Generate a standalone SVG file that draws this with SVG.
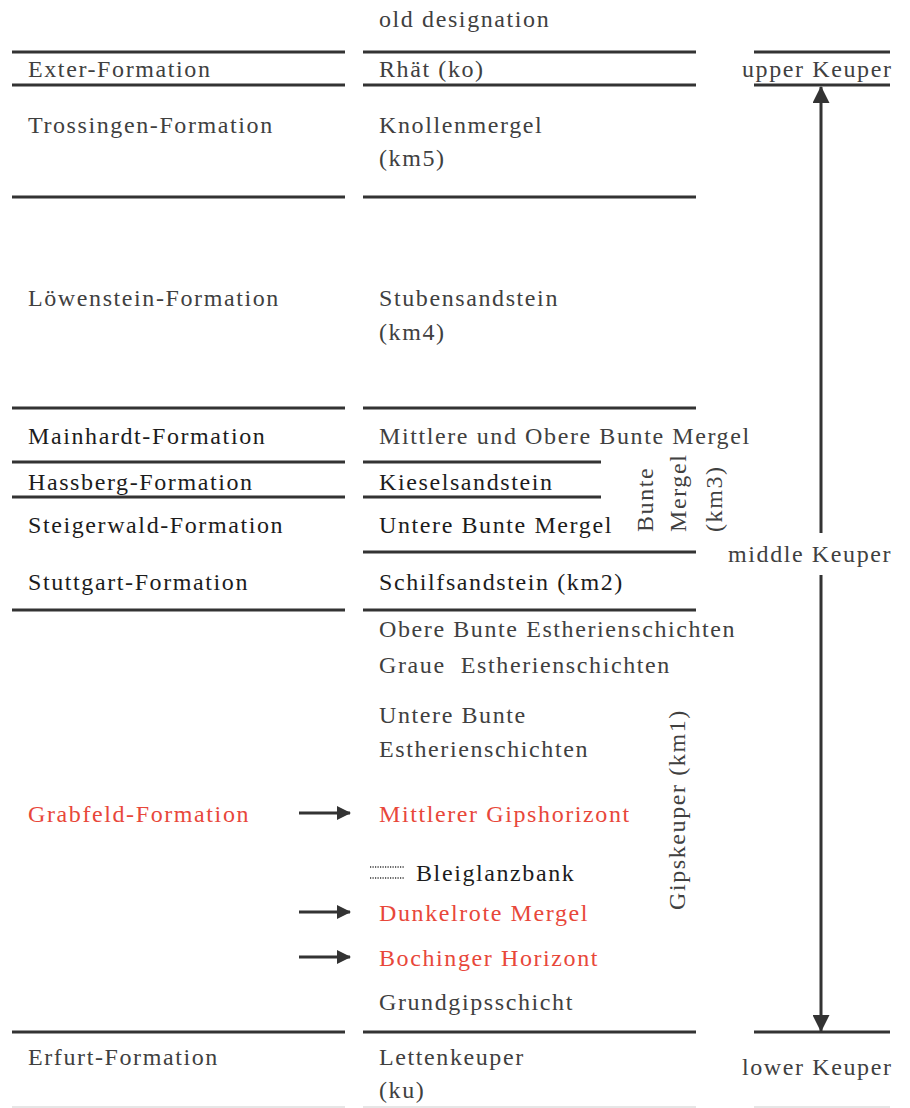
<svg xmlns="http://www.w3.org/2000/svg" width="910" height="1108" viewBox="0 0 910 1108">
<style>
text{font-family:"Liberation Serif","DejaVu Serif",serif;font-size:24px;letter-spacing:1.6px;fill:#404040}
.dk{fill:#1c1c1c}
.red{fill:#e8473a}
.ln{stroke:#333;stroke-width:3;fill:none}
.faint{stroke:#e6e6e6;stroke-width:2}
.dot{stroke:#333;stroke-width:1.5;stroke-dasharray:1.2 1.3}
.arr{stroke:#333;stroke-width:3;fill:none}
</style>
<defs>
<marker id="ah" viewBox="0 0 14 14" refX="13" refY="7" markerWidth="14" markerHeight="14" markerUnits="userSpaceOnUse" orient="auto"><path d="M0,0 L14,7 L0,14 Z" fill="#333"/></marker>
<marker id="bh" viewBox="0 0 17 17" refX="16" refY="8.5" markerWidth="17" markerHeight="17" markerUnits="userSpaceOnUse" orient="auto"><path d="M0,0 L17,8.5 L0,17 Z" fill="#333"/></marker>
</defs>
<g id="rules">
<line class="ln" x1="12" y1="52" x2="345" y2="52"/><line class="ln" x1="363" y1="52" x2="696" y2="52"/>
<line class="ln" x1="12" y1="85" x2="345" y2="85"/><line class="ln" x1="363" y1="85" x2="696" y2="85"/>
<line class="ln" x1="12" y1="197" x2="345" y2="197"/><line class="ln" x1="363" y1="197" x2="696" y2="197"/>
<line class="ln" x1="12" y1="408" x2="345" y2="408"/><line class="ln" x1="363" y1="408" x2="696" y2="408"/>
<line class="ln" x1="12" y1="462" x2="345" y2="462"/><line class="ln" x1="363" y1="462" x2="601" y2="462"/>
<line class="ln" x1="12" y1="497" x2="345" y2="497"/><line class="ln" x1="363" y1="497" x2="601" y2="497"/>
<line class="ln" x1="363" y1="552" x2="696" y2="552"/>
<line class="ln" x1="12" y1="610" x2="345" y2="610"/><line class="ln" x1="363" y1="610" x2="696" y2="610"/>
<line class="ln" x1="12" y1="1032" x2="345" y2="1032"/><line class="ln" x1="363" y1="1032" x2="696" y2="1032"/>
<line class="ln" x1="754" y1="52" x2="890" y2="52"/>
<line class="ln" x1="754" y1="85" x2="890" y2="85"/>
<line class="ln" x1="754" y1="1032" x2="890" y2="1032"/>
<line class="faint" x1="12" y1="1107" x2="345" y2="1107"/><line class="faint" x1="363" y1="1107" x2="696" y2="1107"/><line class="faint" x1="754" y1="1107" x2="890" y2="1107"/>
<line class="dot" x1="370" y1="867" x2="404" y2="867"/>
<line class="dot" x1="370" y1="878" x2="404" y2="878"/>
</g>
<g id="connectors">
<line class="arr" x1="821" y1="533" x2="821" y2="87" marker-end="url(#bh)"/>
<line class="arr" x1="821" y1="575" x2="821" y2="1031" marker-end="url(#bh)"/>
<line class="arr" x1="299" y1="813" x2="350" y2="813" marker-end="url(#ah)"/>
<line class="arr" x1="299" y1="912" x2="350" y2="912" marker-end="url(#ah)"/>
<line class="arr" x1="299" y1="957" x2="350" y2="957" marker-end="url(#ah)"/>
</g>
<g id="header"><text x="379" y="27">old designation</text></g>
<g id="formations">
<text x="28" y="77">Exter-Formation</text>
<text x="28" y="133">Trossingen-Formation</text>
<text x="28" y="306">Löwenstein-Formation</text>
<text class="dk" x="28" y="444">Mainhardt-Formation</text>
<text class="dk" x="28" y="490">Hassberg-Formation</text>
<text class="dk" x="28" y="533">Steigerwald-Formation</text>
<text class="dk" x="28" y="590">Stuttgart-Formation</text>
<text class="red" x="28" y="822">Grabfeld-Formation</text>
<text x="28" y="1065">Erfurt-Formation</text>
</g>
<g id="old">
<text x="379" y="77">Rhät (ko)</text>
<text x="379" y="133">Knollenmergel</text>
<text x="379" y="166">(km5)</text>
<text x="379" y="306">Stubensandstein</text>
<text x="379" y="340">(km4)</text>
<text x="379" y="444">Mittlere und Obere Bunte Mergel</text>
<text class="dk" x="379" y="490">Kieselsandstein</text>
<text class="dk" x="379" y="533">Untere Bunte Mergel</text>
<text class="dk" x="379" y="590">Schilfsandstein (km2)</text>
<text x="379" y="637">Obere Bunte Estherienschichten</text>
<text x="379" y="673" xml:space="preserve">Graue  Estherienschichten</text>
<text x="379" y="723">Untere Bunte</text>
<text x="379" y="757">Estherienschichten</text>
<text class="red" x="379" y="822">Mittlerer Gipshorizont</text>
<text class="dk" x="416" y="881">Bleiglanzbank</text>
<text class="red" x="379" y="921">Dunkelrote Mergel</text>
<text class="red" x="379" y="966">Bochinger Horizont</text>
<text x="379" y="1010">Grundgipsschicht</text>
<text x="379" y="1065">Lettenkeuper</text>
<text x="379" y="1098">(ku)</text>
</g>
<g id="groups">
<text transform="translate(653,532) rotate(-90)">Bunte</text>
<text transform="translate(686,532) rotate(-90)">Mergel</text>
<text transform="translate(722,532) rotate(-90)">(km3)</text>
<text transform="translate(685,910) rotate(-90)">Gipskeuper (km1)</text>
</g>
<g id="stages">
<text x="742" y="77">upper Keuper</text>
<text x="728" y="562">middle Keuper</text>
<text x="742" y="1075">lower Keuper</text>
</g>
</svg>
